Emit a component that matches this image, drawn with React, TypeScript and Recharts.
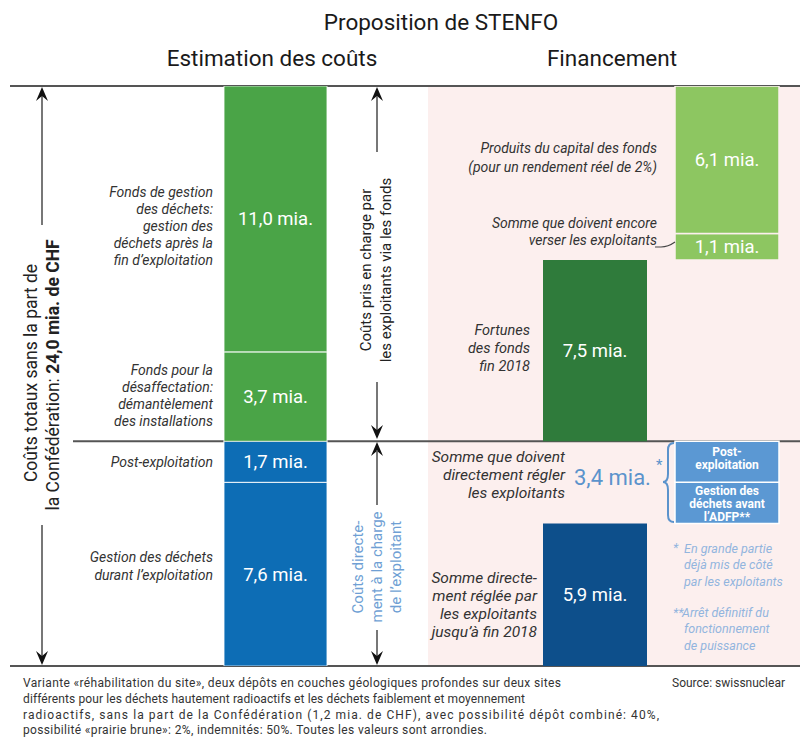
import React from 'react';
import {
  BarChart,
  Bar,
  XAxis,
  YAxis,
  ComposedChart,
  ReferenceLine,
  ReferenceArea,
  LabelList,
} from 'recharts';

// ---------- data ----------
const TOTAL_COSTS = 24.0; // mia. CHF

// Cost estimate (bottom to top)
const costCategories = ['Estimation des coûts'];
const costWasteDuringOperation = [7.6];
const costPostOperation = [1.7];
const costDecommissioning = [3.7];
const costWasteAfterOperation = [11.0];

// Financing
const financeCategories = ['Fortunes des fonds', 'Produits du capital'];
const paidDirectlyUntil2018 = 5.9;
const toPayDirectly = [1.7, 1.7]; // gestion des déchets avant l'ADFP, post-exploitation
const fundAssets2018 = 7.5;
const stillToPayIntoFunds = 1.1;
const capitalRevenue = 6.1;

// ---------- layout / style ----------
const W = 802;
const H = 738;
const TOP = 86;
const BOTTOM = 666;
const FONT = "Roboto, 'Noto Sans', 'DejaVu Sans', sans-serif";
const C = {
  green: '#4aa447',
  lightGreen: '#8dc661',
  darkGreen: '#2f7b3b',
  blue: '#0d6db5',
  darkBlue: '#0d4f8b',
  boxBlue: '#5b98d3',
  textBlue: '#5b93cc',
  noteBlue: '#92b5de',
  pink: '#fcefee',
  line: '#555555',
  text: '#333333',
};

const directCostsTotal = costWasteDuringOperation[0] + costPostOperation[0];

const costData = costCategories.map((name, i) => ({
  name,
  during: costWasteDuringOperation[i],
  post: costPostOperation[i],
  decom: costDecommissioning[i],
  after: costWasteAfterOperation[i],
}));

const toPaySum = toPayDirectly[0] + toPayDirectly[1];
const financeData = [
  {
    name: financeCategories[0],
    paid: paidDirectlyUntil2018,
    gapA: toPaySum,
    adfp: 0,
    postOp: 0,
    fortune: fundAssets2018,
    gapB: 0,
    remain: 0,
    capital: 0,
  },
  {
    name: financeCategories[1],
    paid: 0,
    gapA: paidDirectlyUntil2018,
    adfp: toPayDirectly[0],
    postOp: toPayDirectly[1],
    fortune: 0,
    gapB: fundAssets2018,
    remain: stillToPayIntoFunds,
    capital: capitalRevenue,
  },
];

const fmtMia = (v: any) =>
  typeof v === 'number' && v > 0 ? `${v.toFixed(1).replace('.', ',')} mia.` : '';

const makeBoxLabel = (lines: string[], dy: number) => (props: any) => {
  const x = Number(props.x);
  const y = Number(props.y);
  const w = Number(props.width);
  const h = Number(props.height);
  if (!props.value || !h) return null;
  const cx = x + w / 2;
  const lh = 12.8;
  const start = y + h / 2 - ((lines.length - 1) * lh) / 2 + dy;
  return (
    <text
      fill="#ffffff"
      fontFamily={FONT}
      fontWeight={700}
      fontSize={12}
      textAnchor="middle"
      dominantBaseline="central"
    >
      {lines.map((l, i) => (
        <tspan key={i} x={cx} y={start + i * lh}>
          {l}
        </tspan>
      ))}
    </text>
  );
};

const labelProps = {
  position: 'center' as const,
  fill: '#ffffff',
  fontSize: 18.5,
  fontFamily: FONT,
  formatter: fmtMia,
};

const chartMargin = (left: number, right: number) => ({
  top: TOP,
  bottom: H - BOTTOM,
  left,
  right,
});

const abs: React.CSSProperties = { position: 'absolute', left: 0, top: 0 };

// ---------- annotation helpers ----------
const ArrowHead = ({ x, tip, dir }: { x: number; tip: number; dir: 1 | -1 }) => {
  // dir = 1 : pointing up, -1 : pointing down
  const b = tip + dir * 14;
  const n = tip + dir * 9;
  return <path d={`M${x},${tip} L${x - 6},${b} L${x},${n} L${x + 6},${b} Z`} fill="#111" />;
};

const VLine = ({ x, y1, y2 }: { x: number; y1: number; y2: number }) => (
  <line x1={x} x2={x} y1={y1} y2={y2} stroke={C.line} strokeWidth={1.6} />
);

type Lbl = [number, string];
const LabelBlock = ({
  x,
  lines,
  size,
  color = C.text,
  anchor = 'end',
  italic = true,
}: {
  x: number;
  lines: Lbl[];
  size: number;
  color?: string;
  anchor?: 'end' | 'start' | 'middle';
  italic?: boolean;
}) => (
  <g>
    {lines.map(([y, t], i) => (
      <text
        key={i}
        x={x}
        y={y}
        fontSize={size}
        fontFamily={FONT}
        fontStyle={italic ? 'italic' : 'normal'}
        fill={color}
        textAnchor={anchor}
        dominantBaseline="central"
      >
        {t}
      </text>
    ))}
  </g>
);

const footer = [
  'Variante «réhabilitation du site», deux dépôts en couches géologiques profondes sur deux sites',
  'différents pour les déchets hautement radioactifs et les déchets faiblement et moyennement',
  'radioactifs, sans la part de la Confédération (1,2 mia. de CHF), avec possibilité dépôt combiné: 40%,',
  'possibilité «prairie brune»: 2%, indemnités: 50%. Toutes les valeurs sont arrondies.',
];
const footerWidths = [538, 502, 636, 464];

export default function App() {
  return (
    <div style={{ position: 'relative', width: W, height: H, background: '#fff', overflow: 'hidden' }}>
      <style>{`body{margin:0;background:#fff}`}</style>

      {/* pink financing background */}
      <div style={abs}>
        <ComposedChart width={W} height={H} data={financeData} margin={chartMargin(428, 2)}>
          <XAxis dataKey="name" hide />
          <YAxis hide type="number" domain={[0, TOTAL_COSTS]} allowDataOverflow width={0} />
          <ReferenceArea y1={0} y2={TOTAL_COSTS} fill={C.pink} fillOpacity={1} stroke="none" ifOverflow="visible" />
        </ComposedChart>
      </div>

      {/* top & bottom rules */}
      <div style={abs}>
        <ComposedChart width={W} height={H} data={financeData} margin={chartMargin(10, 2)}>
          <XAxis dataKey="name" hide />
          <YAxis hide type="number" domain={[0, TOTAL_COSTS]} allowDataOverflow width={0} />
          <ReferenceLine y={TOTAL_COSTS} stroke={C.line} strokeWidth={1.8} ifOverflow="visible" />
          <ReferenceLine y={0} stroke={C.line} strokeWidth={1.8} ifOverflow="visible" />
        </ComposedChart>
      </div>

      {/* middle rule (direct costs) */}
      <div style={abs}>
        <ComposedChart width={W} height={H} data={financeData} margin={chartMargin(73, 2)}>
          <XAxis dataKey="name" hide />
          <YAxis hide type="number" domain={[0, TOTAL_COSTS]} allowDataOverflow width={0} />
          <ReferenceLine y={directCostsTotal} stroke={C.line} strokeWidth={1.8} ifOverflow="visible" />
        </ComposedChart>
      </div>

      {/* cost estimate bar */}
      <div style={abs}>
        <BarChart width={W} height={H} data={costData} margin={chartMargin(224, W - 327)} barCategoryGap={0}>
          <XAxis dataKey="name" hide />
          <YAxis hide type="number" domain={[0, TOTAL_COSTS]} allowDataOverflow width={0} />
          <Bar dataKey="during" stackId="c" fill={C.blue} stroke="#ffffff" strokeOpacity={0.7} strokeWidth={1.2} isAnimationActive={false}>
            <LabelList dataKey="during" {...labelProps} />
          </Bar>
          <Bar dataKey="post" stackId="c" fill={C.blue} stroke="#ffffff" strokeOpacity={0.7} strokeWidth={1.2} isAnimationActive={false}>
            <LabelList dataKey="post" {...labelProps} />
          </Bar>
          <Bar dataKey="decom" stackId="c" fill={C.green} stroke="#ffffff" strokeOpacity={0.7} strokeWidth={1.2} isAnimationActive={false}>
            <LabelList dataKey="decom" {...labelProps} />
          </Bar>
          <Bar dataKey="after" stackId="c" fill={C.green} stroke="#ffffff" strokeOpacity={0.7} strokeWidth={1.2} isAnimationActive={false}>
            <LabelList dataKey="after" {...labelProps} />
          </Bar>
        </BarChart>
      </div>

      {/* financing bars */}
      <div style={abs}>
        <BarChart width={W} height={H} data={financeData} margin={chartMargin(529, 9)} barSize={104}>
          <XAxis dataKey="name" hide />
          <YAxis hide type="number" domain={[0, TOTAL_COSTS]} allowDataOverflow width={0} />
          <Bar dataKey="paid" stackId="f" fill={C.darkBlue} isAnimationActive={false}>
            <LabelList dataKey="paid" {...labelProps} />
          </Bar>
          <Bar dataKey="gapA" stackId="f" fill="transparent" isAnimationActive={false} />
          <Bar dataKey="adfp" stackId="f" fill={C.boxBlue} stroke="#ffffff" strokeWidth={1.5} isAnimationActive={false}>
            <LabelList dataKey="adfp" content={makeBoxLabel(['Gestion des', 'déchets avant', 'l’ADFP**'], 1)} />
          </Bar>
          <Bar dataKey="postOp" stackId="f" fill={C.boxBlue} stroke="#ffffff" strokeWidth={1.5} isAnimationActive={false}>
            <LabelList dataKey="postOp" content={makeBoxLabel(['Post-', 'exploitation'], -3)} />
          </Bar>
          <Bar dataKey="fortune" stackId="f" fill={C.darkGreen} isAnimationActive={false}>
            <LabelList dataKey="fortune" {...labelProps} />
          </Bar>
          <Bar dataKey="gapB" stackId="f" fill="transparent" isAnimationActive={false} />
          <Bar dataKey="remain" stackId="f" fill={C.lightGreen} stroke={C.pink} strokeWidth={1.5} isAnimationActive={false}>
            <LabelList dataKey="remain" {...labelProps} />
          </Bar>
          <Bar dataKey="capital" stackId="f" fill={C.lightGreen} stroke={C.pink} strokeWidth={1.5} isAnimationActive={false}>
            <LabelList dataKey="capital" {...labelProps} />
          </Bar>
        </BarChart>
      </div>

      {/* annotations */}
      <svg width={W} height={H} style={{ ...abs, pointerEvents: 'none' }}>
        {/* titles */}
        <text x={441} y={22} textAnchor="middle" dominantBaseline="central" fontFamily={FONT} fontSize={22.5} fill="#1a1a1a">
          Proposition de STENFO
        </text>
        <text x={272} y={58} textAnchor="middle" dominantBaseline="central" fontFamily={FONT} fontSize={22.5} fill="#1a1a1a">
          Estimation des coûts
        </text>
        <text x={612} y={58} textAnchor="middle" dominantBaseline="central" fontFamily={FONT} fontSize={22.5} fill="#1a1a1a">
          Financement
        </text>

        {/* left total arrow */}
        <VLine x={42} y1={96} y2={225} />
        <ArrowHead x={42} tip={87} dir={1} />
        <VLine x={42} y1={525} y2={656} />
        <ArrowHead x={42} tip={665} dir={-1} />
        <g transform="translate(31,373) rotate(-90)">
          <text textAnchor="middle" dominantBaseline="central" fontFamily={FONT} fontSize={17.5} fill="#222">
            Coûts totaux sans la part de
          </text>
        </g>
        <g transform="translate(53,375) rotate(-90)">
          <text textAnchor="middle" dominantBaseline="central" fontFamily={FONT} fontSize={17.5} fill="#222">
            la Confédération: <tspan fontWeight={700}>24,0 mia. de CHF</tspan>
          </text>
        </g>

        {/* middle arrows */}
        <ArrowHead x={377} tip={87} dir={1} />
        <VLine x={377} y1={96} y2={152} />
        <VLine x={377} y1={382} y2={430} />
        <ArrowHead x={377} tip={439} dir={-1} />
        <g transform="translate(366,270) rotate(-90)">
          <text textAnchor="middle" dominantBaseline="central" fontFamily={FONT} fontSize={15} fill="#222">
            Coûts pris en charge par
          </text>
        </g>
        <g transform="translate(386,270) rotate(-90)">
          <text textAnchor="middle" dominantBaseline="central" fontFamily={FONT} fontSize={15} fill="#222">
            les exploitants via les fonds
          </text>
        </g>

        <ArrowHead x={377} tip={442} dir={1} />
        <VLine x={377} y1={450} y2={505} />
        <VLine x={377} y1={630} y2={656} />
        <ArrowHead x={377} tip={665} dir={-1} />
        {[
          [358, 'Coûts directe-'],
          [377, 'ment à la charge'],
          [396, 'de l’exploitant'],
        ].map(([x, t], i) => (
          <g key={i} transform={`translate(${x},567) rotate(-90)`}>
            <text textAnchor="middle" dominantBaseline="central" fontFamily={FONT} fontSize={15} fill="#6f9fd4">
              {t}
            </text>
          </g>
        ))}

        {/* left labels */}
        <LabelBlock
          x={213}
          size={14}
          lines={[
            [192, 'Fonds de gestion'],
            [209, 'des déchets:'],
            [226, 'gestion des'],
            [243, 'déchets après la'],
            [260, 'fin d’exploitation'],
          ]}
        />
        <LabelBlock
          x={213}
          size={14}
          lines={[
            [370, 'Fonds pour la'],
            [387, 'désaffectation:'],
            [404, 'démantèlement'],
            [421, 'des installations'],
          ]}
        />
        <LabelBlock x={213} size={14} lines={[[462, 'Post-exploitation']]} />
        <LabelBlock
          x={213}
          size={14}
          lines={[
            [557, 'Gestion des déchets'],
            [575, 'durant l’exploitation'],
          ]}
        />

        {/* right labels */}
        <LabelBlock
          x={657}
          size={14}
          lines={[
            [148, 'Produits du capital des fonds'],
            [167, '(pour un rendement réel de 2%)'],
          ]}
        />
        <LabelBlock
          x={657}
          size={14}
          lines={[
            [223, 'Somme que doivent encore'],
            [240, 'verser les exploitants'],
          ]}
        />
        <path d="M655,247 L661,247 Q668,247 675,242" fill="none" stroke="#444" strokeWidth={1.2} />
        <LabelBlock
          x={530}
          size={14.5}
          lines={[
            [330, 'Fortunes'],
            [348, 'des fonds'],
            [366, 'fin 2018'],
          ]}
        />
        <LabelBlock
          x={565}
          size={15.5}
          lines={[
            [457, 'Somme que doivent'],
            [475, 'directement régler'],
            [493, 'les exploitants'],
          ]}
        />
        <LabelBlock
          x={537}
          size={15.5}
          lines={[
            [578, 'Somme directe-'],
            [596, 'ment réglée par'],
            [614, 'les exploitants'],
            [632, 'jusqu’à fin 2018'],
          ]}
        />

        {/* 3,4 mia. with brace */}
        <text x={574} y={477} dominantBaseline="central" fontFamily={FONT} fontSize={22} fill={C.textBlue}>
          3,4 mia.
        </text>
        <text x={656} y={465} dominantBaseline="central" fontFamily={FONT} fontSize={15} fill={C.textBlue}>
          *
        </text>
        <path
          d="M674,443 Q668,443 668,450 L668,474 Q668,482 663,482 Q668,482 668,490 L668,515 Q668,522 674,522"
          fill="none"
          stroke={C.textBlue}
          strokeWidth={2}
        />

        {/* footnotes */}
        <LabelBlock x={673} size={12.5} color={C.noteBlue} anchor="start" lines={[[547, '*'], [612, '**']]} />
        <LabelBlock
          x={684}
          size={12.5}
          color={C.noteBlue}
          anchor="start"
          lines={[
            [548, 'En grande partie'],
            [564, 'déjà mis de côté'],
            [581, 'par les exploitants'],
            [628, 'fonctionnement'],
            [645, 'de puissance'],
          ]}
        />
        <LabelBlock x={682} size={12.5} color={C.noteBlue} anchor="start" lines={[[612, 'Arrêt définitif du']]} />

        {/* footer */}
        {footer.map((t, i) => (
          <text
            key={i}
            x={23}
            y={683 + i * 15.8}
            fontSize={12}
            fontFamily={FONT}
            fill="#333"
            dominantBaseline="central"
            textLength={footerWidths[i]}
            lengthAdjust="spacing"
          >
            {t}
          </text>
        ))}
        <LabelBlock x={785} size={12} color="#333" anchor="end" italic={false} lines={[[683, 'Source: swissnuclear']]} />
      </svg>
    </div>
  );
}
